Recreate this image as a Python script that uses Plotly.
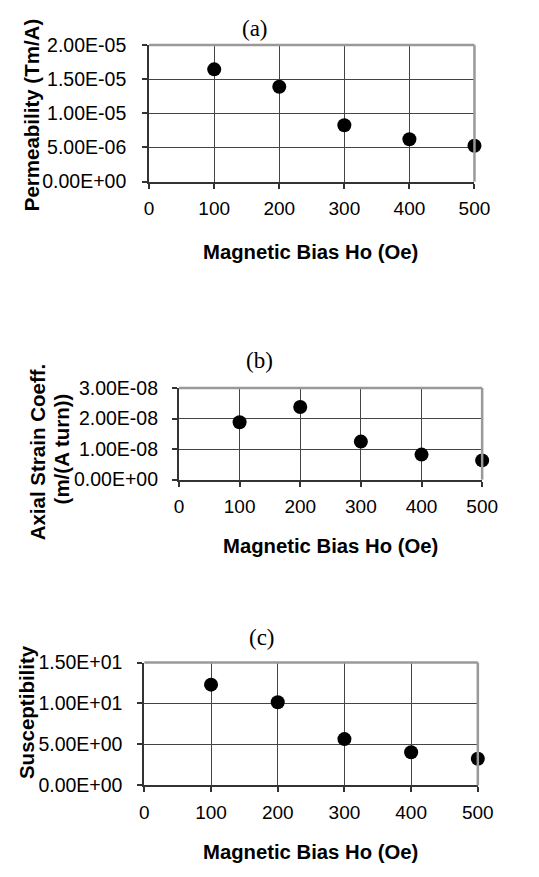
import plotly.graph_objects as go

W, H = 539, 877

bias = [100, 200, 300, 400, 500]
permeability = [1.645e-5, 1.39e-5, 8.25e-6, 6.2e-6, 5.25e-6]
strain_coeff = [1.88e-8, 2.38e-8, 1.245e-8, 8.2e-9, 6.3e-9]
susceptibility = [12.3, 10.15, 5.65, 4.05, 3.25]

x_ticks = [0, 100, 200, 300, 400, 500]
x_ticktext = ["0", "100", "200", "300", "400", "500"]
perm_ticks = [0, 5e-6, 1e-5, 1.5e-5, 2e-5]
perm_ticktext = ["0.00E+00", "5.00E-06", "1.00E-05", "1.50E-05", "2.00E-05"]
strain_ticks = [0, 1e-8, 2e-8, 3e-8]
strain_ticktext = ["0.00E+00", "1.00E-08", "2.00E-08", "3.00E-08"]
sus_ticks = [0, 5, 10, 15]
sus_ticktext = ["0.00E+00", "5.00E+00", "1.00E+01", "1.50E+01"]

panel_titles = ["(a)", "(b)", "(c)"]
x_title = "Magnetic Bias Ho (Oe)"

SANS = "Liberation Sans, Arial, sans-serif"
SERIF = "Liberation Serif, Times New Roman, serif"

# pixel boxes: (left, right, top, bottom)
boxes = [(150, 488.5, 35, 175), (181, 496.5, 386.7, 480.7), (145, 492, 668.3, 794.3)]
y_standoffs = [12, 10, 11]

def px_x(v):
    return v / W

def px_y(v):
    return 1 - v / H

fig = go.Figure()

panels = [
    (permeability, perm_ticks, perm_ticktext, [0, 2e-5]),
    (strain_coeff, strain_ticks, strain_ticktext, [0, 3e-8]),
    (susceptibility, sus_ticks, sus_ticktext, [0, 15]),
]

layout = dict(
    width=W, height=H, margin=dict(l=0, r=0, t=0, b=0),
    paper_bgcolor="white", plot_bgcolor="white", showlegend=False,
    font=dict(family=SANS, color="black"),
)

shapes = []
for i, (vals, yt, ytt, yr) in enumerate(panels):
    n = "" if i == 0 else str(i + 1)
    l, r, t, b = boxes[i]
    fig.add_trace(go.Scatter(
        x=bias, y=vals, mode="markers", xaxis="x" + n, yaxis="y" + n,
        marker=dict(color="black", size=14, line=dict(width=0)),
        cliponaxis=False,
    ))
    layout["xaxis" + n] = dict(
        domain=[px_x(l), px_x(r)], anchor="y" + n, range=[0, 500],
        tickvals=x_ticks, ticktext=x_ticktext, ticks="outside", ticklen=5,
        tickwidth=2, tickcolor="#333", showline=True, linecolor="#333", linewidth=2,
        showgrid=True, gridcolor="#444", gridwidth=1, zeroline=False,
        tickfont=dict(size=19, family=SANS, color="black"),
        ticklabelstandoff=4, fixedrange=True,
    )
    layout["yaxis" + n] = dict(
        domain=[px_y(b), px_y(t)], anchor="x" + n, range=yr,
        tickvals=yt, ticktext=ytt, ticks="outside", ticklen=5,
        tickwidth=2, tickcolor="#333", showline=True, linecolor="#333", linewidth=2,
        showgrid=True, gridcolor="#444", gridwidth=1, zeroline=False,
        tickfont=dict(size=19.5, family=SANS, color="black"),
        ticklabelstandoff=y_standoffs[i], fixedrange=True,
    )
    # gray top and right border
    shapes.append(dict(type="line", xref="x" + n + " domain", yref="y" + n + " domain",
                       x0=0, x1=1, y0=1, y1=1, line=dict(color="#999", width=2.5)))
    shapes.append(dict(type="line", xref="x" + n + " domain", yref="y" + n + " domain",
                       x0=1, x1=1, y0=0, y1=1, line=dict(color="#999", width=2.5)))

layout["shapes"] = shapes

ann = []
# panel titles
for txt, (cx, cy) in zip(panel_titles, [(260, 18), (265, 358), (267, 643)]):
    ann.append(dict(text=txt, x=px_x(cx), y=px_y(cy), xref="paper", yref="paper",
                    showarrow=False, xanchor="center", yanchor="middle",
                    font=dict(family=SERIF, size=23, color="black")))
# x titles
for cx, cy in [(317.5, 247), (339, 549), (317.5, 863)]:
    ann.append(dict(text="<b>" + x_title + "</b>", x=px_x(cx), y=px_y(cy), xref="paper", yref="paper",
                    showarrow=False, xanchor="center", yanchor="middle",
                    font=dict(family=SANS, size=20.3, color="black")))
# y titles
y_titles = [("Permeability (Tm/A)", 27, 106), ("Axial Strain Coeff.", 34, 452),
            ("(m/(A turn))", 59, 449), ("Susceptibility", 23, 719)]
for txt, cx, cy in y_titles:
    ann.append(dict(text="<b>" + txt + "</b>", x=px_x(cx), y=px_y(cy), xref="paper", yref="paper",
                    showarrow=False, xanchor="center", yanchor="middle", textangle=-90,
                    font=dict(family=SANS, size=20.5, color="black")))
layout["annotations"] = ann

fig.update_layout(**layout)
fig.write_html("out.html")
